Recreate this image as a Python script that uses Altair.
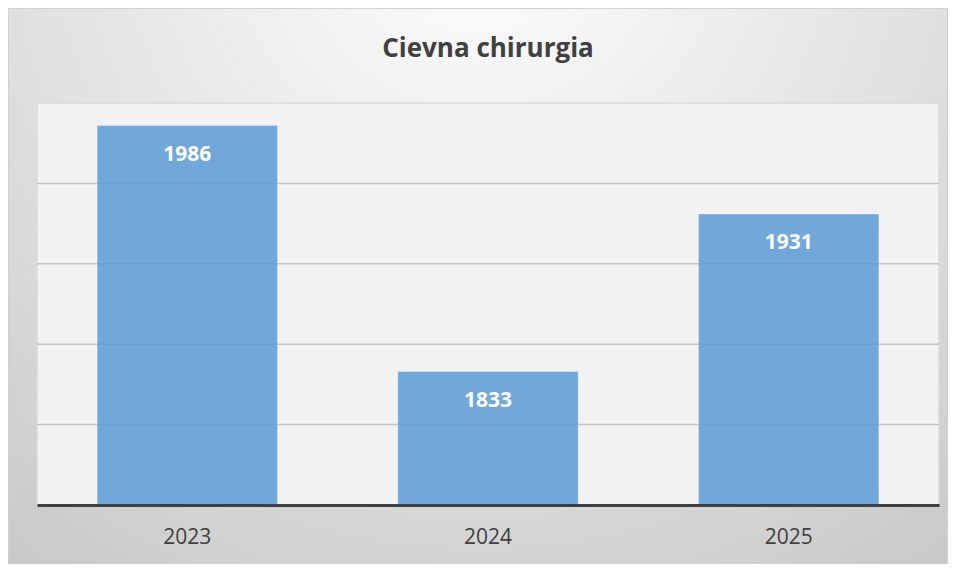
import altair as alt
import pandas as pd

title_text = "Cievna chirurgia"
years = ["2023", "2024", "2025"]
values = [1986, 1833, 1931]
grid_values = [1800, 1850, 1900, 1950]
y_min, y_max = 1750, 2000

W, H = 902, 402
PAD_L, PAD_T, PAD_R, PAD_B = 29, 95, 9, 59

bars_df = pd.DataFrame({"year": years, "value": values})
grid_df = pd.DataFrame({"g": grid_values})
one = pd.DataFrame({"k": [0]})
title_df = pd.DataFrame({"t": [title_text]})

yscale = alt.Scale(domain=[y_min, y_max], zero=False, nice=False)
xscale = alt.Scale(paddingInner=0.4, paddingOuter=0.2)

grad = alt.RadialGradient(
    gradient="radial",
    x1=0.5, y1=0.1, r1=0.0,
    x2=0.5, y2=0.1, r2=0.95,
    stops=[
        alt.GradientStop(offset=0.0, color="#ffffff"),
        alt.GradientStop(offset=0.45, color="#e4e4e4"),
        alt.GradientStop(offset=1.0, color="#c2c2c2"),
    ],
)

background = alt.Chart(one).mark_rect(color=grad, stroke="#d0d0d0", strokeWidth=1).encode(
    x=alt.value(-PAD_L + 0.5), x2=alt.value(W + PAD_R - 0.5),
    y=alt.value(-PAD_T + 0.5), y2=alt.value(H + PAD_B + 20),
)

title = alt.Chart(title_df).mark_text(
    font="Open Sans", fontSize=26, fontWeight="bold", color="#404040", baseline="middle"
).encode(text="t:N", x=alt.value(W / 2), y=alt.value(-54))

plot_bg = alt.Chart(one).mark_rect(fill="#f2f2f2", stroke="#d9d9d9", strokeWidth=1.5).encode(
    x=alt.value(0), x2=alt.value(W), y=alt.value(0), y2=alt.value(H),
)

grid = alt.Chart(grid_df).mark_rule(color="#c3c3c3", strokeWidth=1.5).encode(
    y=alt.Y("g:Q", scale=yscale, axis=None),
    x=alt.value(0), x2=alt.value(W),
)

bars = alt.Chart(bars_df).mark_bar(
    color="#5b9bd5", opacity=0.85, stroke="#ffffff", strokeOpacity=0.35, strokeWidth=1
).encode(
    x=alt.X("year:N", scale=xscale, sort=years, title=None,
            axis=alt.Axis(labelFont="Open Sans", labelFontSize=21, labelColor="#404040",
                          labelAngle=0, ticks=False, tickSize=0, labelPadding=32,
                          labelBaseline="middle", domainColor="#404040", domainWidth=3,
                          zindex=1)),
    y=alt.Y("value:Q", scale=yscale, axis=None),
    y2=alt.datum(y_min),
)

labels = alt.Chart(bars_df).mark_text(
    font="Open Sans", fontSize=21, fontWeight="bold", color="#ffffff",
    baseline="middle", dy=29
).encode(
    x=alt.X("year:N", scale=xscale, sort=years),
    y=alt.Y("value:Q", scale=yscale),
    text="value:Q",
)

chart = alt.layer(background, title, plot_bg, grid, bars, labels).properties(
    width=W, height=H,
    autosize=alt.AutoSizeParams(type="none"),
    padding={"left": PAD_L, "top": PAD_T, "right": PAD_R, "bottom": PAD_B},
).configure_view(stroke=None)

chart.save("out.html", embed_options={"renderer": "svg", "actions": False})
